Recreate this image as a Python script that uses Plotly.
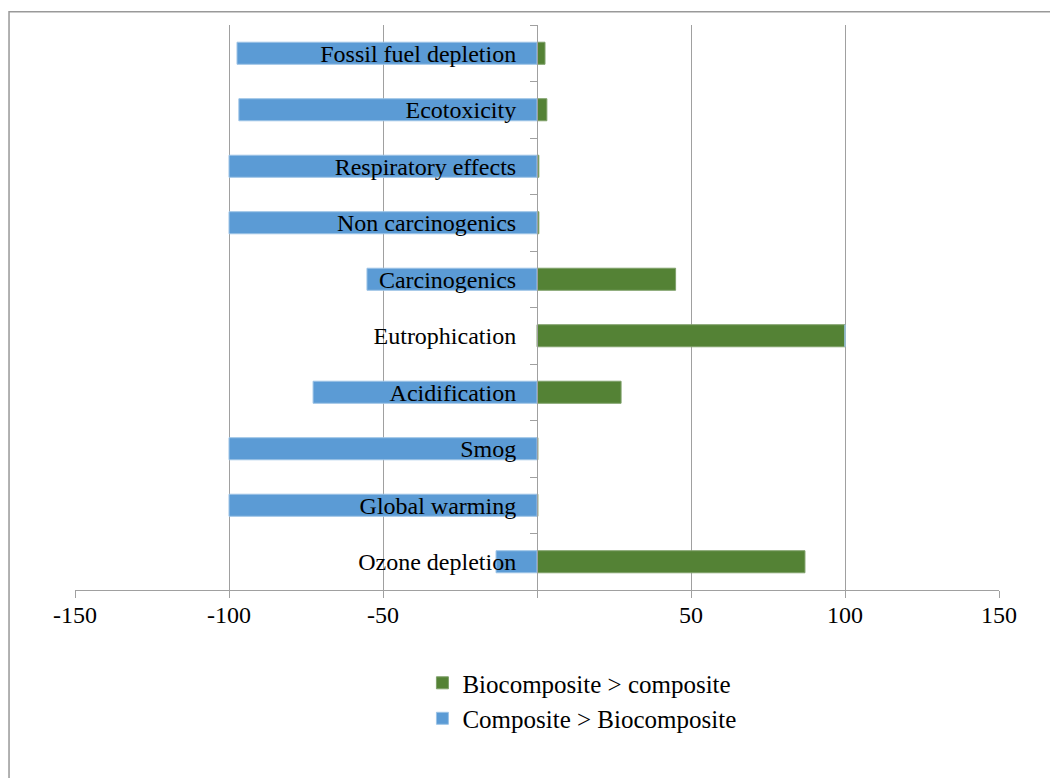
import plotly.graph_objects as go

# Impact categories, listed bottom to top
categories = [
    "Ozone depletion", "Global warming", "Smog", "Acidification",
    "Eutrophication", "Carcinogenics", "Non carcinogenics",
    "Respiratory effects", "Ecotoxicity", "Fossil fuel depletion",
]
# Share (%) of categories where the biocomposite scores higher
bio_greater = [87, 0.3, 0.3, 27.3, 100, 45, 0.6, 0.6, 3.2, 2.6]
# Share (%) where the conventional composite scores higher (drawn negative)
comp_greater = [-13.3, -100, -100, -72.7, 0, -55.2, -100, -100, -96.8, -97.4]

x_ticks = [-150, -100, -50, 0, 50, 100, 150]
x_tick_text = ["-150", "-100", "-50", "", "50", "100", "150"]

GREEN = "#548235"
BLUE = "#5B9BD5"
GREY = "#A0A0A0"
FONT = "Liberation Serif, Times New Roman, serif"

fig = go.Figure()
fig.add_trace(go.Bar(
    y=categories, x=bio_greater, orientation="h",
    name="Biocomposite > composite",
    marker=dict(color=GREEN, line=dict(color="#7FA06A", width=1)),
))
fig.add_trace(go.Bar(
    y=categories, x=comp_greater, orientation="h",
    name="Composite > Biocomposite",
    marker=dict(color=BLUE, line=dict(color="#9CC3E6", width=1)),
))

fig.update_layout(
    width=1050, height=778,
    margin=dict(l=75, r=51, t=25, b=188),
    paper_bgcolor="white", plot_bgcolor="white",
    barmode="relative", bargap=0.61,
    font=dict(family=FONT, size=24, color="black"),
    showlegend=True,
    legend=dict(
        x=0.376, y=-0.124, xanchor="left", yanchor="top",
        traceorder="normal", font=dict(family=FONT, size=25),
        itemwidth=30, tracegroupgap=0,
    ),
    xaxis=dict(
        range=[-150, 150], tickvals=x_ticks, ticktext=x_tick_text,
        showgrid=True, gridcolor=GREY, gridwidth=1,
        zeroline=False, showline=True, linecolor=GREY, linewidth=1,
        ticks="outside", ticklen=7, tickcolor=GREY,
        ticklabelstandoff=-4,
        tickfont=dict(family=FONT, size=24), mirror=False,
    ),
    yaxis=dict(
        categoryorder="array", categoryarray=categories,
        anchor="free", position=0.5,
        showline=True, linecolor=GREY, linewidth=1,
        ticks="outside", ticklen=7, tickcolor=GREY, tickson="boundaries",
        ticklabelstandoff=16, showgrid=False, zeroline=False,
        tickfont=dict(family=FONT, size=24),
    ),
    shapes=[dict(
        type="rect", xref="paper", yref="paper",
        x0=-0.0714, x1=1.2, y0=-0.5, y1=1.0235,
        line=dict(color="#999999", width=1.5), layer="below",
    )],
)

fig.write_html("out.html")
